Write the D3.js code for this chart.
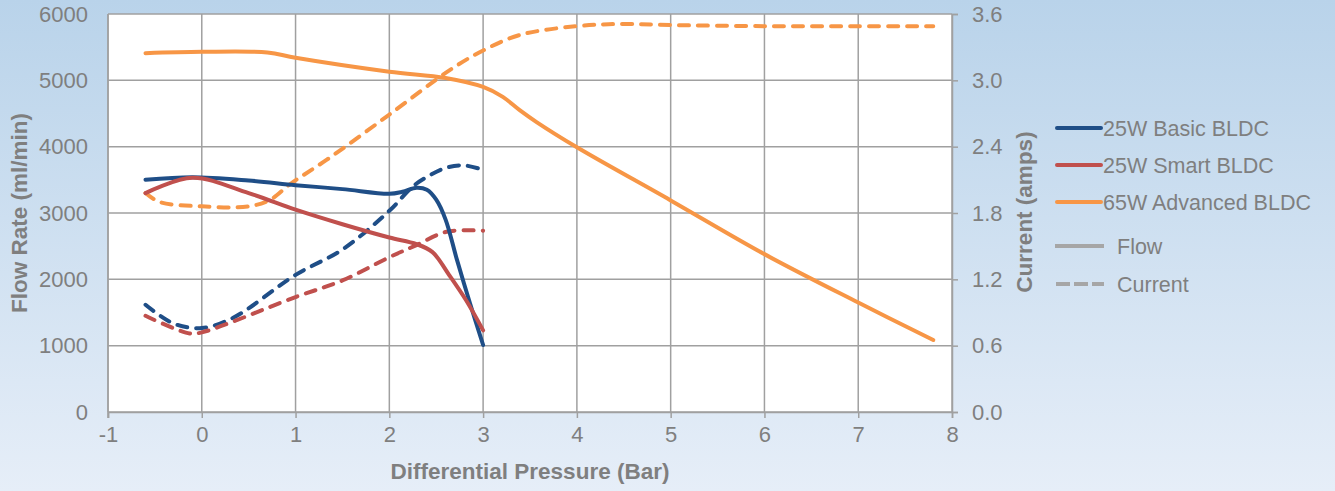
<!DOCTYPE html>
<html>
<head>
<meta charset="utf-8">
<script src="https://cdn.jsdelivr.net/npm/d3@7"></script>
<style>
  html, body { margin: 0; padding: 0; }
  body { width: 1335px; height: 491px; overflow: hidden; }
  text { font-family: "Liberation Sans", Arial, sans-serif; fill: #7f7f7f; }
</style>
</head>
<body>
<div id="chart"></div>
<script>
// pressure (bar) for each curve
var basicFlowP = [-0.6, -0.1, 0.5, 1.0, 1.5, 2.0, 2.14, 2.29, 2.4, 2.5, 2.6, 2.72, 2.86, 3.0];
var basicFlow  = [3500, 3540, 3490, 3420, 3360, 3290, 3320, 3380, 3350, 3200, 2900, 2300, 1640, 1010];

var smartFlowP = [-0.6, -0.1, 0.5, 1.0, 1.5, 2.0, 2.29, 2.46, 2.64, 2.82, 3.0];
var smartFlow  = [3300, 3530, 3300, 3050, 2830, 2630, 2530, 2410, 2060, 1680, 1230];

var advFlowP = [-0.6, 0, 0.7, 1.0, 2.0, 2.6, 3.0, 3.21, 3.39, 3.57, 4.0, 5.0, 6.0, 7.0, 7.8];
var advFlow  = [5410, 5430, 5420, 5340, 5130, 5035, 4900, 4750, 4550, 4370, 3990, 3190, 2380, 1650, 1085];

var basicCurP = [-0.6, -0.3, 0, 0.33, 1.0, 1.5, 2.0, 2.25, 2.43, 2.61, 2.8, 3.0];
var basicCur  = [0.97, 0.80, 0.76, 0.85, 1.24, 1.47, 1.82, 2.04, 2.14, 2.21, 2.23, 2.19];

var smartCurP = [-0.6, -0.13, 0, 1.0, 1.5, 2.0, 2.29, 2.61, 3.0];
var smartCur  = [0.87, 0.71, 0.72, 1.04, 1.19, 1.40, 1.51, 1.63, 1.64];

var advCurP = [-0.6, -0.45, 0, 0.5, 0.73, 0.94, 1.33, 2.0, 2.64, 3.0, 3.39, 4.0, 4.5, 5, 6, 7, 7.8];
var advCur  = [1.98, 1.90, 1.86, 1.86, 1.92, 2.06, 2.28, 2.69, 3.09, 3.27, 3.41, 3.49, 3.51, 3.50, 3.49, 3.49, 3.49];

var seriesNames = ["25W Basic BLDC", "25W Smart BLDC", "65W Advanced BLDC"];
var seriesColors = ["#1f4e87", "#c0504d", "#f79646"];

var xTicks = [-1, 0, 1, 2, 3, 4, 5, 6, 7, 8];
var flowTicks = [0, 1000, 2000, 3000, 4000, 5000, 6000];
var curTicks = [0, 0.6, 1.2, 1.8, 2.4, 3.0, 3.6];

var W = 1335, H = 491;
var plotL = 108, plotR = 952, plotT = 14, plotB = 412;
var gridColor = "#a0a0a0";

var svg = d3.select("#chart").append("svg")
    .attr("width", W)
    .attr("height", H);

// background gradient
var grad = svg.append("defs").append("linearGradient")
    .attr("id", "bg").attr("x1", 0).attr("y1", 0).attr("x2", 0).attr("y2", 1);
grad.append("stop").attr("offset", "0%").attr("stop-color", "#b9d3ea");
grad.append("stop").attr("offset", "100%").attr("stop-color", "#e6eef8");
svg.append("rect").attr("width", W).attr("height", H).attr("fill", "url(#bg)");

svg.append("rect")
    .attr("x", plotL).attr("y", plotT)
    .attr("width", plotR - plotL).attr("height", plotB - plotT)
    .attr("fill", "#ffffff");

var x = d3.scaleLinear().domain([-1, 8]).range([plotL, plotR]);
var yFlow = d3.scaleLinear().domain([0, 6000]).range([plotB, plotT]);
var yCur = d3.scaleLinear().domain([0, 3.6]).range([plotB, plotT]);

// grid
svg.append("g").selectAll("line").data(flowTicks).enter().append("line")
    .attr("x1", plotL).attr("x2", plotR)
    .attr("y1", function(d) { return yFlow(d); })
    .attr("y2", function(d) { return yFlow(d); })
    .attr("stroke", gridColor).attr("stroke-width", 1.5);
svg.append("g").selectAll("line").data(xTicks).enter().append("line")
    .attr("x1", function(d) { return x(d); })
    .attr("x2", function(d) { return x(d); })
    .attr("y1", plotT).attr("y2", plotB)
    .attr("stroke", gridColor).attr("stroke-width", 1.5);

// axes
var xAxis = svg.append("g")
    .attr("transform", "translate(0," + plotB + ")")
    .call(d3.axisBottom(x).tickValues(xTicks).tickSize(6).tickPadding(8)
      .tickFormat(function(d) { return String(d); }));
var yAxisL = svg.append("g")
    .attr("transform", "translate(" + plotL + ",0)")
    .call(d3.axisLeft(yFlow).tickValues(flowTicks).tickSize(0).tickPadding(20)
      .tickFormat(function(d) { return String(d); }));
var yAxisR = svg.append("g")
    .attr("transform", "translate(" + plotR + ",0)")
    .call(d3.axisRight(yCur).tickValues(curTicks).tickSize(6).tickPadding(14).tickFormat(d3.format(".1f")));

[xAxis, yAxisL, yAxisR].forEach(function(a) {
  a.select(".domain").attr("stroke", gridColor).attr("stroke-width", 1.5);
  a.selectAll(".tick line").attr("stroke", gridColor).attr("stroke-width", 1.5);
  a.selectAll(".tick text")
    .attr("fill", "#7f7f7f")
    .style("font-family", "'Liberation Sans', Arial, sans-serif")
    .style("font-size", "22px");
});
yAxisL.select(".domain").remove();
svg.append("line").attr("x1", plotL).attr("x2", plotL).attr("y1", plotT).attr("y2", plotB + 6)
    .attr("stroke", gridColor).attr("stroke-width", 1.5);

// axis titles
svg.append("text")
    .attr("x", 530).attr("y", 479)
    .attr("text-anchor", "middle")
    .style("font-size", "22.5px").style("font-weight", "bold")
    .text("Differential Pressure (Bar)");
svg.append("text")
    .attr("transform", "translate(27,213) rotate(-90)")
    .attr("text-anchor", "middle")
    .style("font-size", "22.5px").style("font-weight", "bold")
    .text("Flow Rate (ml/min)");
svg.append("text")
    .attr("transform", "translate(1032,212) rotate(-90)")
    .attr("text-anchor", "middle")
    .style("font-size", "22.5px").style("font-weight", "bold")
    .text("Current (amps)");

// lines
function pts(px, py) { return px.map(function(p, i) { return [p, py[i]]; }); }

var flowLine = d3.line()
    .x(function(d) { return x(d[0]); })
    .y(function(d) { return yFlow(d[1]); })
    .curve(d3.curveCatmullRom.alpha(0.5));
var curLine = d3.line()
    .x(function(d) { return x(d[0]); })
    .y(function(d) { return yCur(d[1]); })
    .curve(d3.curveCatmullRom.alpha(0.5));

var currents = [pts(basicCurP, basicCur), pts(smartCurP, smartCur), pts(advCurP, advCur)];
var flows = [pts(basicFlowP, basicFlow), pts(smartFlowP, smartFlow), pts(advFlowP, advFlow)];

var plot = svg.append("g");
currents.forEach(function(c, i) {
  plot.append("path")
    .attr("d", curLine(c))
    .attr("fill", "none")
    .attr("stroke", seriesColors[i])
    .attr("stroke-width", 4)
    .attr("stroke-linecap", "round")
    .attr("stroke-dasharray", "10,9");
});
flows.forEach(function(f, i) {
  plot.append("path")
    .attr("d", flowLine(f))
    .attr("fill", "none")
    .attr("stroke", seriesColors[i])
    .attr("stroke-width", 4)
    .attr("stroke-linecap", "round");
});

// legend
var legY = [128, 165, 202];
var leg = svg.append("g");
seriesNames.forEach(function(name, i) {
  leg.append("line")
    .attr("x1", 1057).attr("x2", 1101)
    .attr("y1", legY[i]).attr("y2", legY[i])
    .attr("stroke", seriesColors[i]).attr("stroke-width", 4)
    .attr("stroke-linecap", "round");
  leg.append("text")
    .attr("x", 1103).attr("y", legY[i] + 8)
    .style("font-size", "21.5px")
    .text(name);
});
leg.append("line")
    .attr("x1", 1055).attr("x2", 1104).attr("y1", 246).attr("y2", 246)
    .attr("stroke", "#a6a6a6").attr("stroke-width", 4);
leg.append("text").attr("x", 1117).attr("y", 254).style("font-size", "21.5px").text("Flow");
leg.append("line")
    .attr("x1", 1056).attr("x2", 1104).attr("y1", 284).attr("y2", 284)
    .attr("stroke", "#a6a6a6").attr("stroke-width", 4)
    .attr("stroke-dasharray", "14,4");
leg.append("text").attr("x", 1117).attr("y", 292).style("font-size", "21.5px").text("Current");
</script>
</body>
</html>
